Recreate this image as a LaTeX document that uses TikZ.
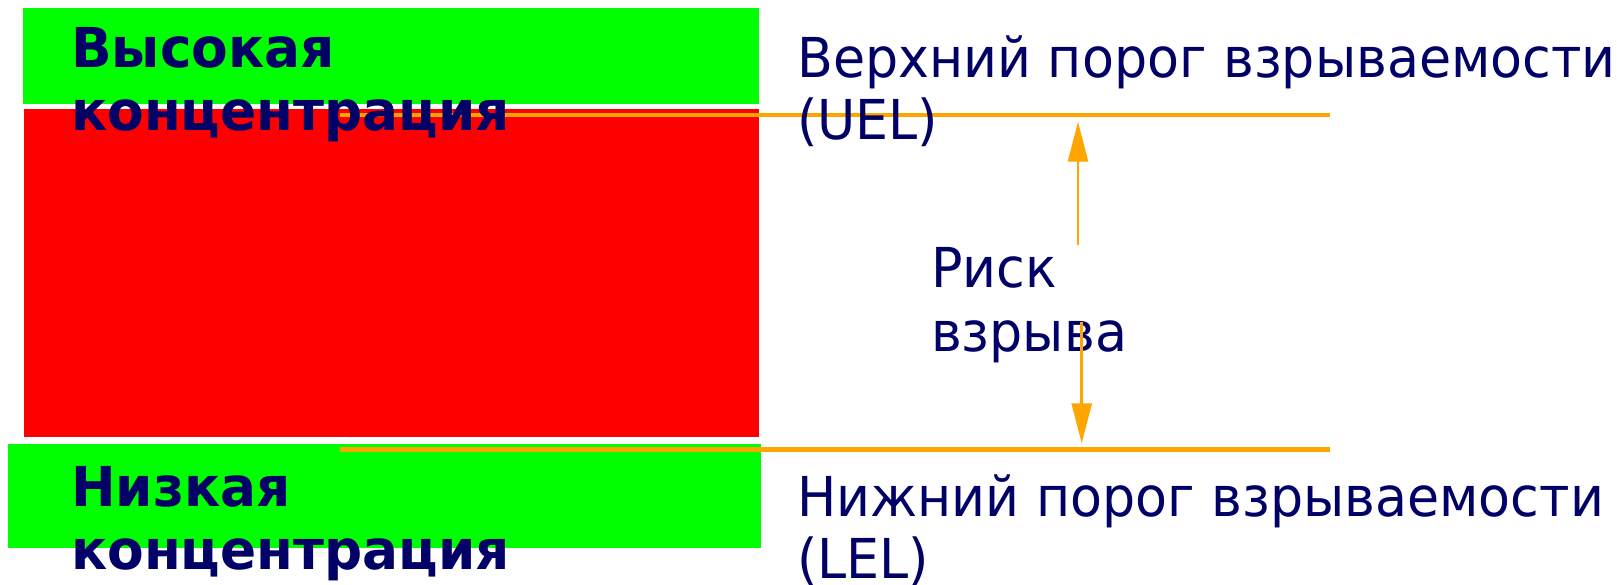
\documentclass[tikz,border=0pt]{standalone}
\usepackage{fontspec}
\setmainfont{DejaVu Sans}
\newfontfamily\zonefont[FakeStretch=0.97]{DejaVu Sans}
\newfontfamily\limitfont[FakeStretch=0.95]{DejaVu Sans}
\usetikzlibrary{arrows.meta}
\definecolor{zonegreen}{HTML}{00FF00}
\definecolor{zonered}{HTML}{FF0000}
\definecolor{limitline}{HTML}{FFA500}
\definecolor{navytext}{HTML}{000066}
\tikzset{
  limit/.style={draw=limitline, line width=4.7pt},
  riskarrow/.style={draw=limitline, line width=2.6pt,
    -{Triangle[length=40pt, width=20pt]}},
  boldlabel/.style={anchor=base west, inner sep=0pt, text=navytext,
    font=\zonefont\fontsize{55pt}{62pt}\selectfont\bfseries},
  plainlabel/.style={anchor=base west, inner sep=0pt, text=navytext,
    font=\limitfont\fontsize{55pt}{62pt}\selectfont},
}
\begin{document}
\begin{tikzpicture}[x=1pt, y=-1pt]
  \useasboundingbox (0,0) rectangle (1617,585);
  % concentration zones
  \fill[zonegreen] (22.7,8.5) rectangle (759,104);
  \fill[zonered] (24,109.3) rectangle (759.3,436.7);
  \fill[zonegreen] (8.2,444) rectangle (761,547.7);
  % explosive limits
  \coordinate (uelA) at (340,115);
  \coordinate (uelB) at (1330,115);
  \coordinate (lelA) at (340,449.5);
  \coordinate (lelB) at (1330,449.5);
  \draw[limit] (uelA) -- (uelB);
  \draw[limit] (lelA) -- (lelB);
  % zone labels
  \node[boldlabel] (hi1) at (71,68) {Высокая};
  \node[boldlabel] (hi2) at (71,131) {концентрация};
  \node[boldlabel] (lo1) at (71,506) {Низкая};
  \node[boldlabel] (lo2) at (71,569) {концентрация};
  % limit labels
  \node[plainlabel] (uel1) at (797,78) {Верхний порог взрываемости};
  \node[plainlabel] (uel2) at (797,140) {(UEL)};
  \node[plainlabel] (lel1) at (797,516) {Нижний порог взрываемости};
  \node[plainlabel] (lel2) at (797,578) {(LEL)};
  % explosion risk between the limits
  \node[plainlabel] (risk1) at (931,288) {Риск};
  \node[plainlabel] (risk2) at (931,352) {взрыва};
  \coordinate (upStart) at (1078,245);
  \coordinate (upTip) at (1078,121.7);
  \coordinate (downStart) at (1081.7,321.7);
  \coordinate (downTip) at (1081.7,443.3);
  \draw[riskarrow] (upStart) -- (upTip);
  \draw[riskarrow] (downStart) -- (downTip);
\end{tikzpicture}
\end{document}
